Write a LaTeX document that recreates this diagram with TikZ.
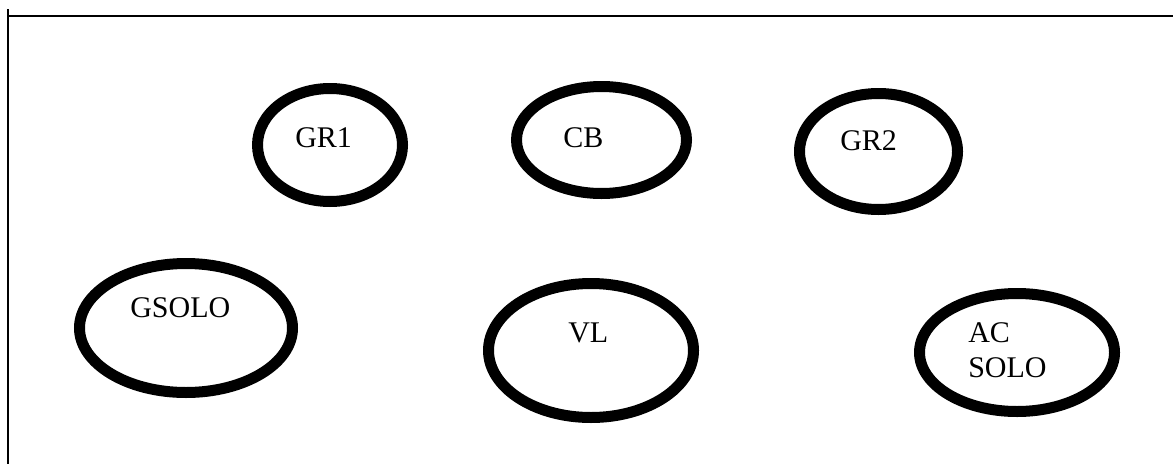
\documentclass[tikz,border=0pt]{standalone}
\usepackage{fontspec}
\setmainfont{Liberation Serif}
\usetikzlibrary{shapes.geometric}
\begin{document}
\begin{tikzpicture}[x=0.75pt,y=-0.75pt,
  ring/.style={draw=black,line width=8.25pt,ellipse,inner sep=0pt},
  lbl/.style={inner sep=0pt,anchor=base west,font=\fontsize{22.5}{26.25}\selectfont,align=left},
  frame/.style={draw=black,line width=1.5pt}]
\useasboundingbox (0,0) rectangle (1173,464);
\coordinate (tl) at (8,16);
\coordinate (tr) at (1173,16);
\coordinate (lt) at (8,9);
\coordinate (lb) at (8,464);
\draw[frame] (tl) -- (tr);
\draw[frame] (lt) -- (lb);
\node[ring,minimum width=108.75pt,minimum height=84.75pt] (gr1) at (330,145) {};
\node[ring,minimum width=127.5pt,minimum height=80.25pt] (cb) at (601.5,140) {};
\node[ring,minimum width=118.5pt,minimum height=87pt] (gr2) at (878.5,151.5) {};
\node[ring,minimum width=159.75pt,minimum height=96.75pt] (gsolo) at (186,328) {};
\node[ring,minimum width=153.75pt,minimum height=100.5pt] (vl) at (591,350.5) {};
\node[ring,minimum width=146.25pt,minimum height=88.5pt] (acsolo) at (1017,352.5) {};
\node[lbl] (gr1t) at (295,147) {GR1};
\node[lbl] (cbt) at (563,147) {CB};
\node[lbl] (gr2t) at (840,150) {GR2};
\node[lbl] (gsolot) at (130,317) {GSOLO};
\node[lbl] (vlt) at (568,342) {VL};
\node[lbl] (acsolot) at (968,377) {AC\\SOLO};
\end{tikzpicture}
\end{document}
